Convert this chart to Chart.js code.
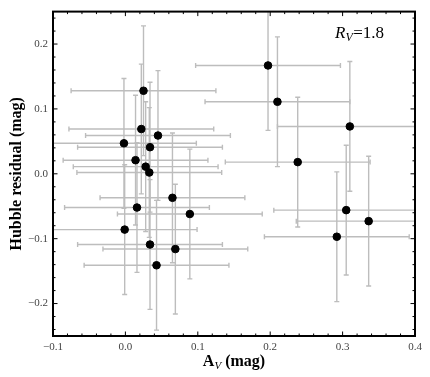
<!DOCTYPE html>
<html>
<head>
<meta charset="utf-8">
<script src="https://cdn.jsdelivr.net/npm/chart.js@4/dist/chart.umd.min.js"></script>
<style>
  html, body { margin: 0; padding: 0; background: #fff; }
  canvas { display: block; }
</style>
</head>
<body>
<canvas id="hubble-chart" width="430" height="377"></canvas>
<script>
// A_V vs Hubble residual, R_V = 1.8

const avValues = [0.025, 0.197, 0.210, 0.310, 0.238, 0.022, 0.045, -0.002, 0.034, 0.014, 0.028,
                  0.033, 0.065, 0.016, 0.089, -0.001, 0.034, 0.069, 0.043, 0.305, 0.336, 0.292];
const residualValues = [0.128, 0.167, 0.111, 0.073, 0.018, 0.069, 0.059, 0.047, 0.041, 0.021, 0.011,
                        0.002, -0.037, -0.052, -0.062, -0.086, -0.109, -0.116, -0.141, -0.056, -0.073, -0.097];
const avErrors = [0.1, 0.1, 0.1, 0.1, 0.1, 0.1, 0.1, 0.1, 0.1, 0.1, 0.1,
                  0.1, 0.1, 0.1, 0.1, 0.1, 0.1, 0.1, 0.1, 0.1, 0.1, 0.1];
const residualErrors = [0.1, 0.1, 0.1, 0.1, 0.1, 0.1, 0.1, 0.1, 0.1, 0.1, 0.1,
                        0.1, 0.1, 0.1, 0.1, 0.1, 0.1, 0.1, 0.1, 0.1, 0.1, 0.1];
const xTicks = [-0.1, 0.0, 0.1, 0.2, 0.3, 0.4];
const yTicks = [-0.2, -0.1, 0.0, 0.1, 0.2];

const SERIF = '"Liberation Serif", "Times New Roman", serif';
const fmt = v => v.toFixed(1).replace('-', '\u2212');

const errorBars = {
    id: 'errorBars',
    beforeDatasetsDraw(chart) {
        const { ctx, chartArea: a, scales: { x, y } } = chart;
        const cap = 2.5;
        ctx.save();
        ctx.beginPath();
        ctx.rect(a.left, a.top, a.right - a.left, a.bottom - a.top);
        ctx.clip();
        ctx.strokeStyle = '#bdbdbd';
        ctx.lineWidth = 1.4;
        avValues.forEach((xv, i) => {
            const yv = residualValues[i];
            const px = x.getPixelForValue(xv), py = y.getPixelForValue(yv);
            const x0 = x.getPixelForValue(xv - avErrors[i]), x1 = x.getPixelForValue(xv + avErrors[i]);
            const y0 = y.getPixelForValue(yv - residualErrors[i]), y1 = y.getPixelForValue(yv + residualErrors[i]);
            ctx.beginPath();
            ctx.moveTo(x0, py); ctx.lineTo(x1, py);
            ctx.moveTo(x0, py - cap); ctx.lineTo(x0, py + cap);
            ctx.moveTo(x1, py - cap); ctx.lineTo(x1, py + cap);
            ctx.moveTo(px, y0); ctx.lineTo(px, y1);
            ctx.moveTo(px - cap, y0); ctx.lineTo(px + cap, y0);
            ctx.moveTo(px - cap, y1); ctx.lineTo(px + cap, y1);
            ctx.stroke();
        });
        ctx.restore();
    }
};

const frameAndText = {
    id: 'frameAndText',
    afterDraw(chart) {
        const { ctx, chartArea: a, scales: { x, y } } = chart;
        ctx.save();
        ctx.strokeStyle = '#000';
        // inward ticks on all four sides, minor every 0.02
        ctx.lineWidth = 1;
        ctx.beginPath();
        for (let k = -5; k <= 20; k++) {
            const v = k * 0.02;
            const major = k % 5 === 0;
            const len = major ? 4.5 : 2.5;
            const px = x.getPixelForValue(v);
            if (px >= a.left && px <= a.right) {
                ctx.moveTo(px, a.bottom); ctx.lineTo(px, a.bottom - len);
                ctx.moveTo(px, a.top); ctx.lineTo(px, a.top + len);
            }
        }
        for (let k = -12; k <= 12; k++) {
            const v = k * 0.02;
            const major = k % 5 === 0;
            const len = major ? 4.5 : 2.5;
            const py = y.getPixelForValue(v);
            if (py >= a.top && py <= a.bottom) {
                ctx.moveTo(a.left, py); ctx.lineTo(a.left + len, py);
                ctx.moveTo(a.right, py); ctx.lineTo(a.right - len, py);
            }
        }
        ctx.stroke();
        ctx.lineWidth = 2;
        ctx.strokeRect(a.left, a.top, a.right - a.left, a.bottom - a.top);

        ctx.fillStyle = '#000';
        // y title
        ctx.save();
        ctx.translate(17, (a.top + a.bottom) / 2);
        ctx.rotate(-Math.PI / 2);
        ctx.font = 'bold 16px ' + SERIF;
        ctx.textAlign = 'center';
        ctx.textBaseline = 'middle';
        ctx.fillText('Hubble residual (mag)', 0, 0);
        ctx.restore();

        // x title: A_V (mag)
        ctx.textBaseline = 'alphabetic';
        ctx.textAlign = 'left';
        const big = 'bold 16px ' + SERIF, sub = 'italic 11px ' + SERIF;
        ctx.font = big; const wA = ctx.measureText('A').width; const wM = ctx.measureText(' (mag)').width;
        ctx.font = sub; const wV = ctx.measureText('V').width;
        let tx = (a.left + a.right) / 2 - (wA + wV + wM) / 2;
        const base = 366;
        ctx.font = big; ctx.fillText('A', tx, base); tx += wA;
        ctx.font = sub; ctx.fillText('V', tx, base + 3); tx += wV;
        ctx.font = big; ctx.fillText(' (mag)', tx, base);

        // R_V = 1.8 label
        let rx = 335;
        const rb = 38;
        ctx.font = 'italic 17px ' + SERIF; ctx.fillText('R', rx, rb); rx += ctx.measureText('R').width;
        ctx.font = 'italic 12px ' + SERIF; ctx.fillText('V', rx, rb + 3); rx += ctx.measureText('V').width + 0.5;
        ctx.font = '17px ' + SERIF; ctx.fillText('=1.8', rx, rb);
        ctx.restore();
    }
};

new Chart(document.getElementById('hubble-chart').getContext('2d'), {
    type: 'scatter',
    data: {
        datasets: [{
            data: avValues.map((v, i) => ({ x: v, y: residualValues[i] })),
            backgroundColor: '#000',
            borderColor: '#000',
            pointRadius: 3.8,
            pointHoverRadius: 3.8
        }]
    },
    options: {
        responsive: false,
        animation: false,
        devicePixelRatio: 1,
        layout: { padding: { left: 0, top: 6, right: 15, bottom: 0 } },
        plugins: { legend: { display: false }, tooltip: { enabled: false } },
        scales: {
            x: {
                type: 'linear', min: -0.1, max: 0.4,
                afterBuildTicks: s => { s.ticks = xTicks.map(v => ({ value: v })); },
                afterFit: s => { s.height = 41; },
                ticks: { callback: fmt, font: { family: SERIF, size: 11 }, color: '#444', padding: 5, maxRotation: 0, autoSkip: false },
                grid: { display: false, drawTicks: false },
                border: { display: false }
            },
            y: {
                type: 'linear', min: -0.25, max: 0.25,
                afterBuildTicks: s => { s.ticks = yTicks.map(v => ({ value: v })); },
                afterFit: s => { s.width = 53; },
                ticks: { callback: fmt, font: { family: SERIF, size: 11 }, color: '#444', padding: 5, autoSkip: false },
                grid: { display: false, drawTicks: false },
                border: { display: false }
            }
        }
    },
    plugins: [errorBars, frameAndText]
});
</script>
</body>
</html>
